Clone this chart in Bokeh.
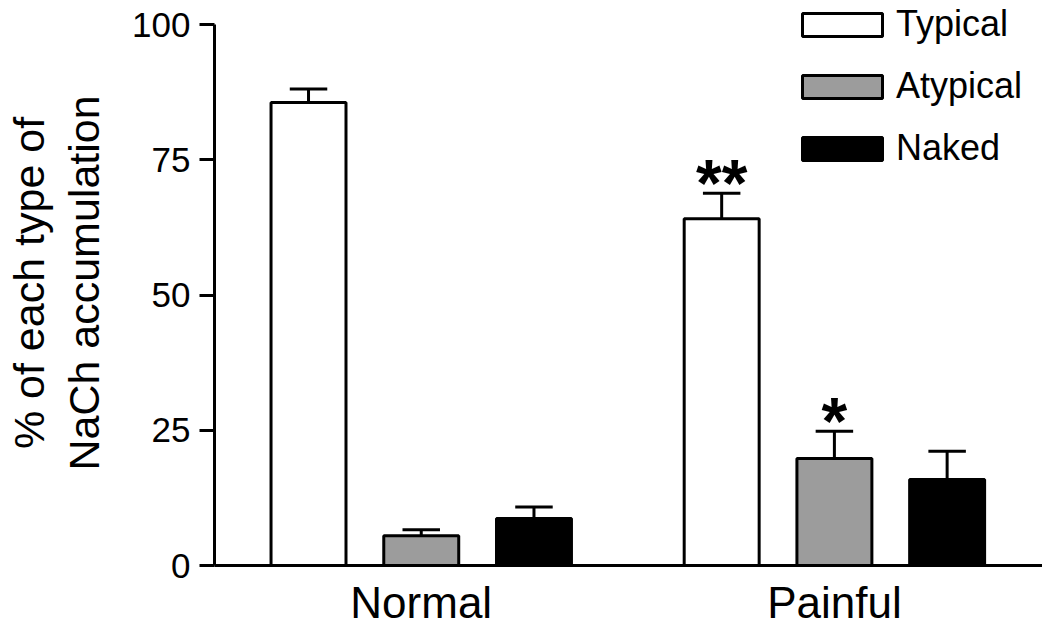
from bokeh.plotting import figure
from bokeh.models import Range1d, FixedTicker, Legend, LegendItem, ColumnDataSource
from bokeh.embed import file_html
from bokeh.resources import INLINE
from bokeh.core.properties import value

# ---- data ----
groups = ["Normal", "Painful"]
series = ["Typical", "Atypical", "Naked"]
typical = [85.6, 64.1]
typical_err = [2.5, 4.7]
atypical = [5.5, 19.8]
atypical_err = [1.1, 5.0]
naked = [8.7, 15.9]
naked_err = [2.1, 5.2]
sig_typical = ["", "**"]
sig_atypical = ["", "*"]
sig_naked = ["", ""]
y_ticks = [0, 25, 50, 75, 100]

values = [typical, atypical, naked]
errors = [typical_err, atypical_err, naked_err]
sigs = [sig_typical, sig_atypical, sig_naked]
fills = ["white", "#9c9c9c", "black"]

FONT = "Liberation Sans"
bar_w = 0.665
gap = 0.665
n = len(series)

def xpos(g, s):
    return g * (n + gap) + s + 1

# frame spans the full top of the figure so the legend can sit above the 100 tick;
# the y axis line itself is bounded to 0..100
p = figure(width=1042, height=629, output_backend="svg", toolbar_location=None,
           x_range=Range1d(0.166, 7.511), y_range=Range1d(0, 104.44),
           min_border_left=214, min_border_right=0, min_border_top=0,
           min_border_bottom=64)
p.outline_line_color = None
p.xgrid.visible = False
p.ygrid.visible = False
p.background_fill_color = "white"

legend_items = []
for s, name in enumerate(series):
    xs = [xpos(g, s) for g in range(len(groups))]
    src = ColumnDataSource(dict(x=xs, top=values[s], err_top=[v + e for v, e in zip(values[s], errors[s])],
                                left=[x - bar_w / 4 for x in xs], right=[x + bar_w / 4 for x in xs],
                                sig=sigs[s]))
    p.segment(x0="x", y0="top", x1="x", y1="err_top", source=src, line_color="black", line_width=3)
    p.segment(x0="left", y0="err_top", x1="right", y1="err_top", source=src, line_color="black", line_width=3)
    r = p.vbar(x="x", top="top", bottom=0, width=bar_w, source=src, fill_color=fills[s],
               line_color="black", line_width=3)
    legend_items.append(LegendItem(label=name, renderers=[r]))
    p.text(x="x", y="err_top", text="sig", source=src, text_align="center", text_baseline="alphabetic",
           y_offset=-10, text_font=value(FONT), text_font_size="66px", text_font_style="bold",
           text_color="black")

legend = Legend(items=legend_items, location=(578, 396), orientation="vertical",
                glyph_width=100, glyph_height=29, label_standoff=4, spacing=20,
                label_text_font=FONT, label_text_font_size="36px", label_text_color="black",
                padding=0, margin=0, border_line_alpha=0, background_fill_alpha=0)
p.add_layout(legend, "center")

# y axis
p.yaxis.ticker = FixedTicker(ticks=y_ticks)
p.yaxis.bounds = (0, 100)
p.yaxis.axis_line_width = 3
p.yaxis.major_tick_line_width = 3
p.yaxis.major_tick_out = 15
p.yaxis.major_tick_in = 0
p.yaxis.minor_tick_line_color = None
p.yaxis.major_label_text_font = FONT
p.yaxis.major_label_text_font_size = "35px"
p.yaxis.major_label_text_color = "black"
p.yaxis.major_label_standoff = 9
p.yaxis.axis_label = "% of each type of\nNaCh accumulation"
p.yaxis.axis_label_text_font = FONT
p.yaxis.axis_label_text_font_size = "43px"
p.yaxis.axis_label_text_font_style = "normal"
p.yaxis.axis_label_text_color = "black"
p.yaxis.axis_label_text_line_height = 1.15
p.yaxis.axis_label_standoff = 21

# x axis
centers = [xpos(g, (n - 1) / 2) for g in range(len(groups))]
p.xaxis.ticker = FixedTicker(ticks=centers)
p.xaxis.major_label_overrides = {c: g for c, g in zip(centers, groups)}
p.xaxis.axis_line_width = 3
p.xaxis.major_tick_line_color = None
p.xaxis.minor_tick_line_color = None
p.xaxis.major_label_text_font = FONT
p.xaxis.major_label_text_font_size = "44px"
p.xaxis.major_label_text_color = "black"
p.xaxis.major_label_standoff = 6

open("out.html", "w").write(file_html(p, INLINE))
